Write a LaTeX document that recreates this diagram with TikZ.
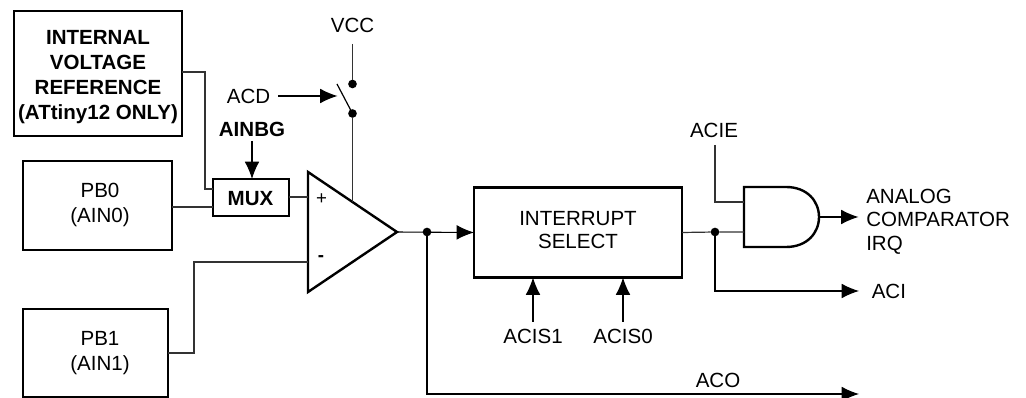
\documentclass[tikz,border=0pt]{standalone}
\usepackage{fontspec}
\setmainfont{Liberation Sans}
\usetikzlibrary{arrows.meta,calc}
\tikzset{
  x=0.75pt,y=-0.75pt,
  thick box/.style={draw=black,line width=1.8pt,inner sep=0pt,outer sep=0pt},
  wire/.style={draw=black!80,line width=0.9pt},
  sig/.style={draw=black,line width=0.8pt,-{Latex[length=13pt,width=11pt]}},
  lbl/.style={inner sep=0pt,font=\fontsize{15.4pt}{17.6pt}\selectfont,align=center,text=black},
  plbl/.style={lbl,font=\fontsize{15.4pt}{18.4pt}\selectfont},
  blbl/.style={lbl,font=\fontsize{15.4pt}{18.75pt}\selectfont\bfseries},
  dot/.style={circle,fill=black,inner sep=0pt,minimum size=6.5pt,outer sep=0pt},
}
\begin{document}
\begin{tikzpicture}
\useasboundingbox (0,0) rectangle (1026,398);
% boxes
\node[thick box,minimum width=126pt,minimum height=93.75pt] (ivr) at (98,73.5) {};
\node[blbl] (ivrt) at (98,77) {INTERNAL\\VOLTAGE\\REFERENCE\\(ATtiny12 ONLY)};
\node[thick box,minimum width=111.75pt,minimum height=66.75pt] (pb0) at (97.5,205.5) {};
\node[plbl] (pb0t) at (100,205) {PB0\\(AIN0)};
\node[thick box,minimum width=108.75pt,minimum height=66pt] (pb1) at (95.5,353) {};
\node[plbl] (pb1t) at (100,353) {PB1\\(AIN1)};
\node[thick box,minimum width=57pt,minimum height=27.75pt] (mux) at (251,197.5) {};
\node[blbl] (muxt) at (250.5,198.5) {MUX};
\node[thick box,minimum width=156pt,minimum height=67.5pt] (irq) at (578,232.5) {};
\node[lbl] (irqt) at (578,230) {INTERRUPT\\SELECT};
% comparator
\coordinate (ta) at (308,172);
\coordinate (tb) at (308,292);
\coordinate (out) at (397,232);
\draw[line width=1.8pt,line join=miter] (ta) -- (out) -- (tb) -- cycle;
\node[lbl,font=\fontsize{14pt}{14pt}\selectfont] (plus) at (321.5,199) {+};
\node[lbl,font=\fontsize{14pt}{14pt}\selectfont\bfseries] (minus) at (321,259) {-};
% AND gate
\draw[line width=1.8pt] (744,187) -- (786,187) .. controls (807,187) and (819,201) .. (819,217) .. controls (819,233) and (807,247) .. (786,247) -- (744,247) -- cycle;
\coordinate (anda) at (744,202);
\coordinate (andb) at (744,232);
\coordinate (ando) at (819,217);
% texts
\node[lbl] (vcc) at (352.5,25) {VCC};
\node[lbl] (acd) at (248.5,96) {ACD};
\node[blbl] (ainbg) at (252,129) {AINBG};
\node[lbl] (acie) at (714,130) {ACIE};
\node[lbl,align=left,anchor=west] (analog) at (866,221.5) {ANALOG\\COMPARATOR\\IRQ};
\node[lbl,anchor=west] (aci) at (871.5,291.5) {ACI};
\node[lbl] (aco) at (718,380) {ACO};
\node[lbl] (acis1) at (533,336) {ACIS1};
\node[lbl] (acis0) at (623,336) {ACIS0};
% switch
\node[dot] (s1) at (352.5,84) {};
\node[dot] (s2) at (352.5,113.5) {};
\draw[wire] (352.5,44) -- (s1);
\draw[wire,draw=black] (337,84) -- (352.5,113.5);
\coordinate (swin) at (337.5,96);
\draw[sig] (278,96) -- (swin);
\draw[wire] (s2) -- (352.5,202);
% wires
\draw[wire] (ivr.east |- 0,72) -| (205,189) -- (mux.west |- 0,189);
\draw[wire] (pb0.east |- 0,207) -- (mux.west |- 0,207);
\draw[wire] (mux.east |- 0,197) -- (308,197);
\draw[wire] (pb1.east |- 0,353) -| (194,262) -- (308,262);
\draw[sig] (252,141) -- (mux.north -| 252,0);
\node[dot] (j1) at (427,232) {};
\draw[sig] (out) -- (irq.west);
\coordinate (acoend) at (859,394);
\draw[sig] (j1) |- (acoend);
\draw[sig] (acis1.north |- 0,322) -- (acis1.north |- irq.south);
\draw[sig] (acis0.north |- 0,322) -- (acis0.north |- irq.south);
\node[dot] (j2) at (715,232) {};
\draw[wire] (irq.east) -- (j2) -- (andb);
\draw[wire] (715,145) |- (anda);
\coordinate (aciend) at (859,291);
\draw[sig] (j2) |- (aciend);
\coordinate (andend) at (858.5,217);
\draw[sig] (ando) -- (andend);
\end{tikzpicture}
\end{document}
